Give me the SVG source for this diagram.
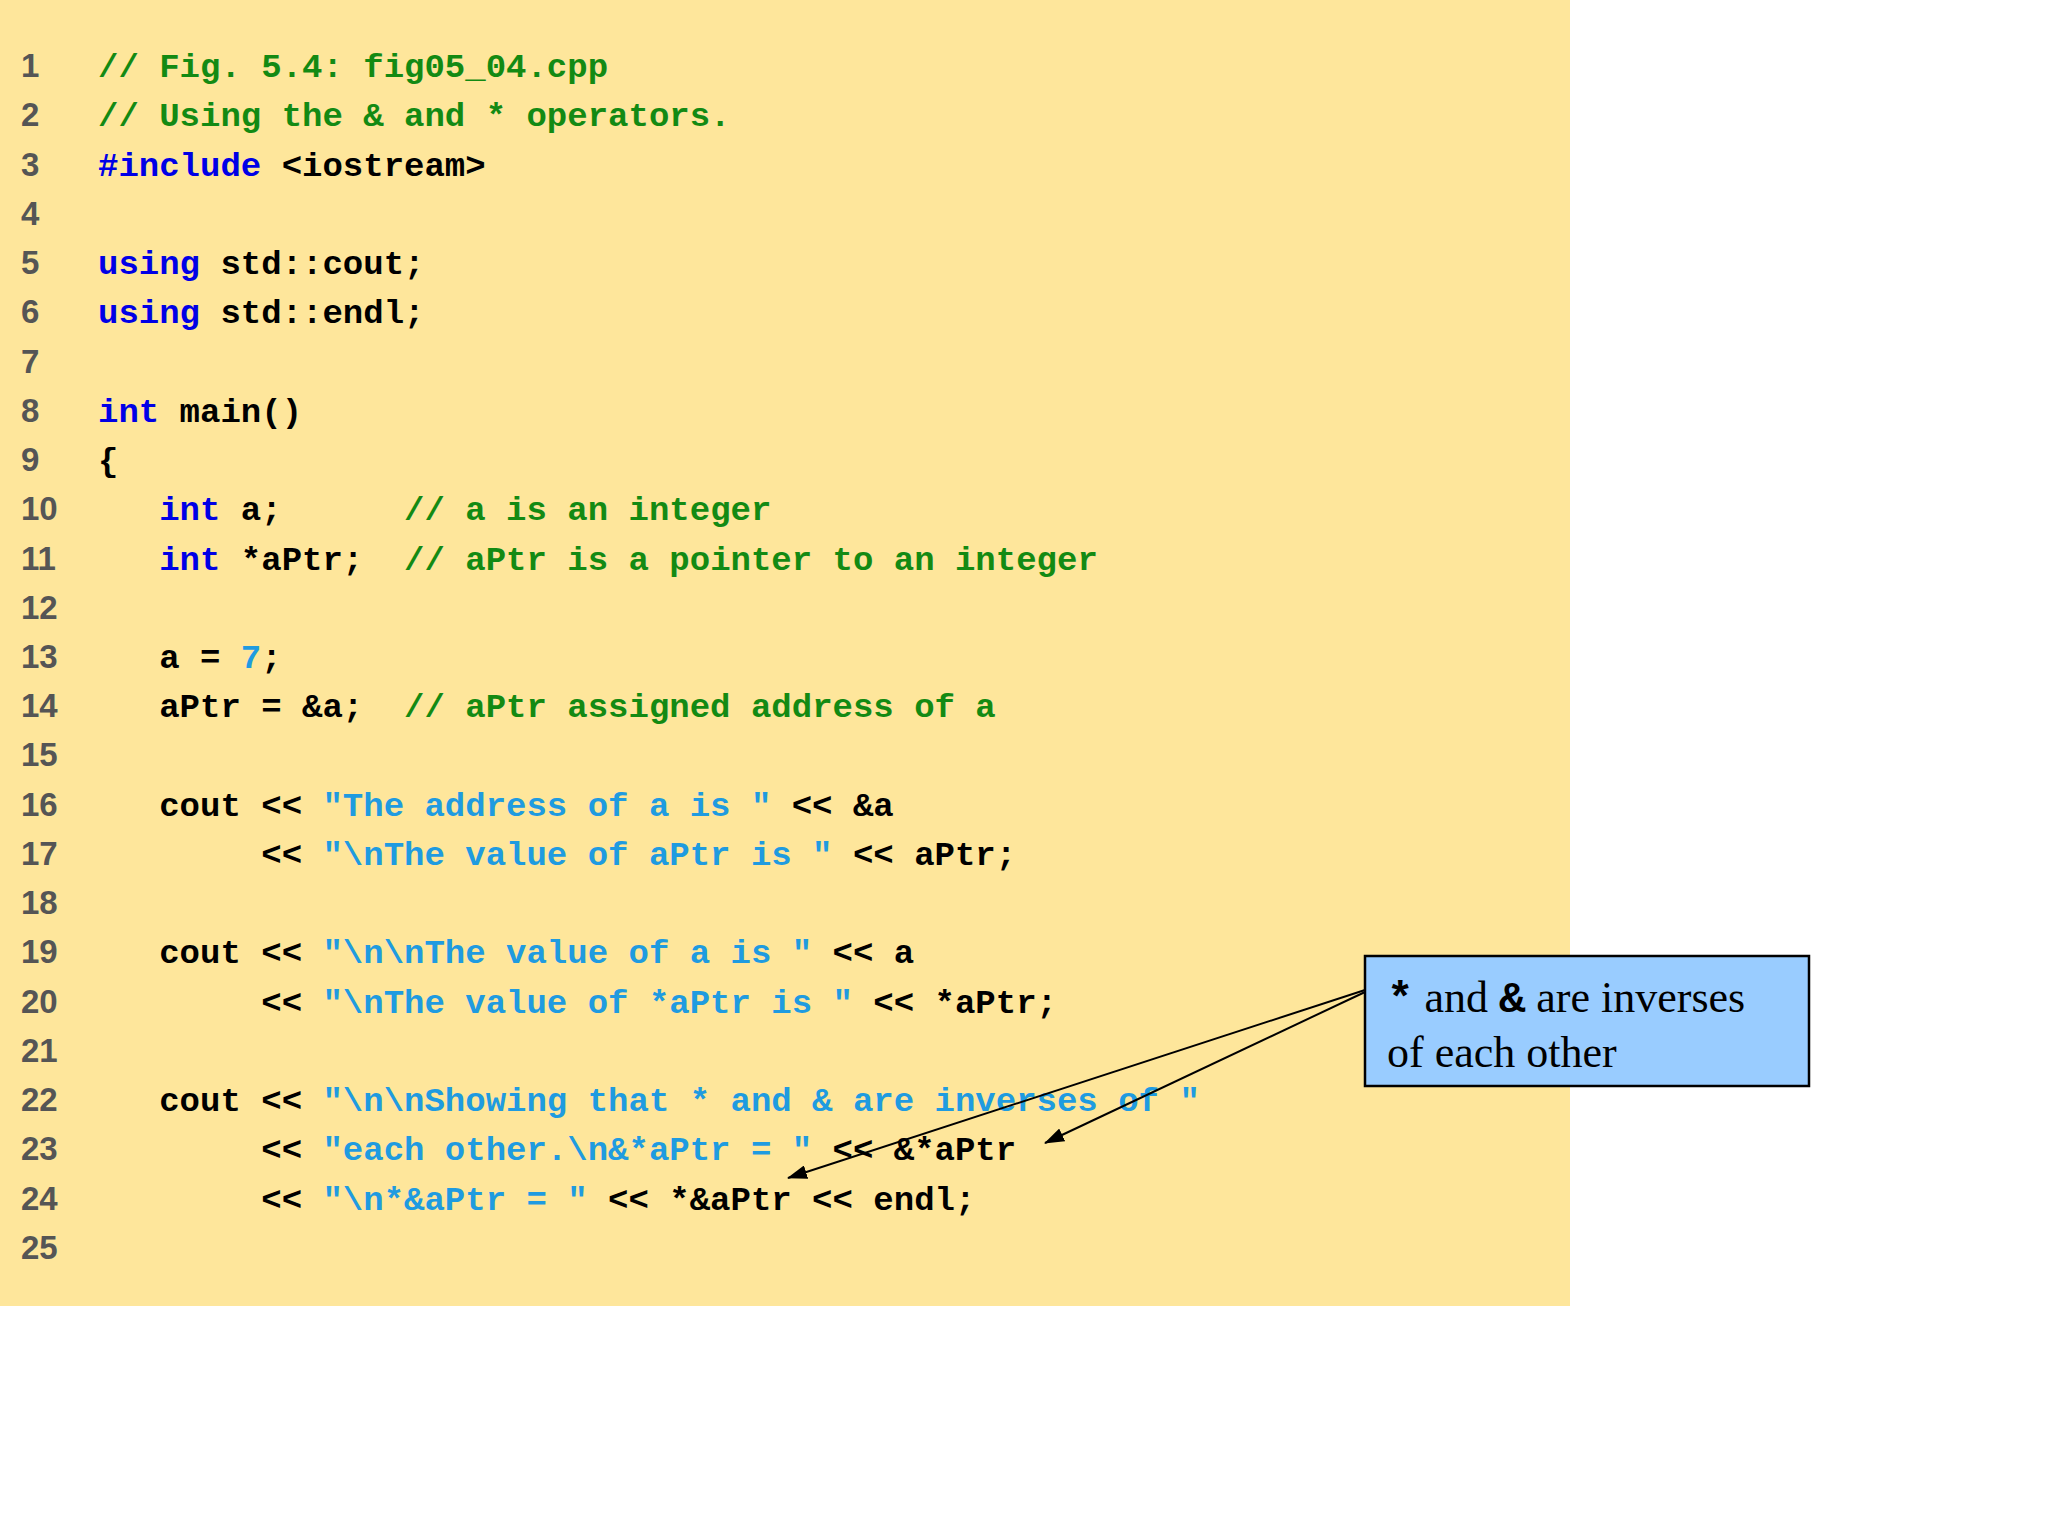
<svg xmlns="http://www.w3.org/2000/svg" width="2048" height="1536" viewBox="0 0 2048 1536">
<style>
.n{font-family:"Liberation Sans Narrow","Liberation Sans",sans-serif;font-weight:bold;font-size:33px;fill:#555}
text.c{font-family:"Liberation Mono",monospace;font-weight:bold;font-size:34px;fill:#000;white-space:pre}
.g{fill:#138a13}.k{fill:#0000e6}.s{fill:#1f9be0}
text.c.g{fill:#138a13}
.t{font-family:"Liberation Serif",serif;font-size:44px;fill:#000}
.m{font-family:"Liberation Mono",monospace;font-weight:bold}
</style>
<defs><marker id="ah" markerWidth="20" markerHeight="14" refX="19" refY="7" orient="auto" markerUnits="userSpaceOnUse"><path d="M0,0 L20,7 L0,14 z" fill="#000"/></marker></defs>
<rect x="0" y="0" width="1570" height="1306" fill="#fee69b"/>
<g id="linenumbers" class="n">
<text x="21" y="77">1</text><text x="21" y="126">2</text><text x="21" y="176">3</text><text x="21" y="225">4</text><text x="21" y="274">5</text><text x="21" y="323">6</text><text x="21" y="373">7</text><text x="21" y="422">8</text><text x="21" y="471">9</text><text x="21" y="520">10</text><text x="21" y="570">11</text><text x="21" y="619">12</text><text x="21" y="668">13</text><text x="21" y="717">14</text><text x="21" y="766">15</text><text x="21" y="816">16</text><text x="21" y="865">17</text><text x="21" y="914">18</text><text x="21" y="963">19</text><text x="21" y="1013">20</text><text x="21" y="1062">21</text><text x="21" y="1111">22</text><text x="21" y="1160">23</text><text x="21" y="1210">24</text><text x="21" y="1259">25</text>
</g>
<g id="code">
<text xml:space="preserve" x="98" y="77" class="c g">// Fig. 5.4: fig05_04.cpp</text>
<text xml:space="preserve" x="98" y="126" class="c g">// Using the &amp; and * operators.</text>
<text xml:space="preserve" x="98" y="176" class="c"><tspan class="k">#include</tspan> &lt;iostream&gt;</text>
<text xml:space="preserve" x="98" y="274" class="c"><tspan class="k">using</tspan> std::cout;</text>
<text xml:space="preserve" x="98" y="323" class="c"><tspan class="k">using</tspan> std::endl;</text>
<text xml:space="preserve" x="98" y="422" class="c"><tspan class="k">int</tspan> main()</text>
<text xml:space="preserve" x="98" y="471" class="c">{</text>
<text xml:space="preserve" x="98" y="520" class="c">   <tspan class="k">int</tspan> a;      <tspan class="g">// a is an integer</tspan></text>
<text xml:space="preserve" x="98" y="570" class="c">   <tspan class="k">int</tspan> *aPtr;  <tspan class="g">// aPtr is a pointer to an integer</tspan></text>
<text xml:space="preserve" x="98" y="668" class="c">   a = <tspan class="s">7</tspan>;</text>
<text xml:space="preserve" x="98" y="717" class="c">   aPtr = &amp;a;  <tspan class="g">// aPtr assigned address of a</tspan></text>
<text xml:space="preserve" x="98" y="816" class="c">   cout &lt;&lt; <tspan class="s">"The address of a is "</tspan> &lt;&lt; &amp;a</text>
<text xml:space="preserve" x="98" y="865" class="c">        &lt;&lt; <tspan class="s">"\nThe value of aPtr is "</tspan> &lt;&lt; aPtr;</text>
<text xml:space="preserve" x="98" y="963" class="c">   cout &lt;&lt; <tspan class="s">"\n\nThe value of a is "</tspan> &lt;&lt; a</text>
<text xml:space="preserve" x="98" y="1013" class="c">        &lt;&lt; <tspan class="s">"\nThe value of *aPtr is "</tspan> &lt;&lt; *aPtr;</text>
<text xml:space="preserve" x="98" y="1111" class="c">   cout &lt;&lt; <tspan class="s">"\n\nShowing that * and &amp; are inverses of "</tspan></text>
<text xml:space="preserve" x="98" y="1160" class="c">        &lt;&lt; <tspan class="s">"each other.\n&amp;*aPtr = "</tspan> &lt;&lt; &amp;*aPtr</text>
<text xml:space="preserve" x="98" y="1210" class="c">        &lt;&lt; <tspan class="s">"\n*&amp;aPtr = "</tspan> &lt;&lt; *&amp;aPtr &lt;&lt; endl;</text>
</g>
<g id="connectors" stroke="#000" stroke-width="2" fill="none">
<line x1="1365" y1="990" x2="788" y2="1178" marker-end="url(#ah)"/>
<line x1="1365" y1="992" x2="1045" y2="1143" marker-end="url(#ah)"/>
</g>
<g id="callout">
<rect x="1365" y="956" width="444" height="130" fill="#99ccff" stroke="#000" stroke-width="2.5"/>
<text x="1387" y="1012" class="t"><tspan class="m">*</tspan> and <tspan class="m">&amp;</tspan> are inverses</text>
<text x="1387" y="1067" class="t">of each other</text>
</g>
</svg>
